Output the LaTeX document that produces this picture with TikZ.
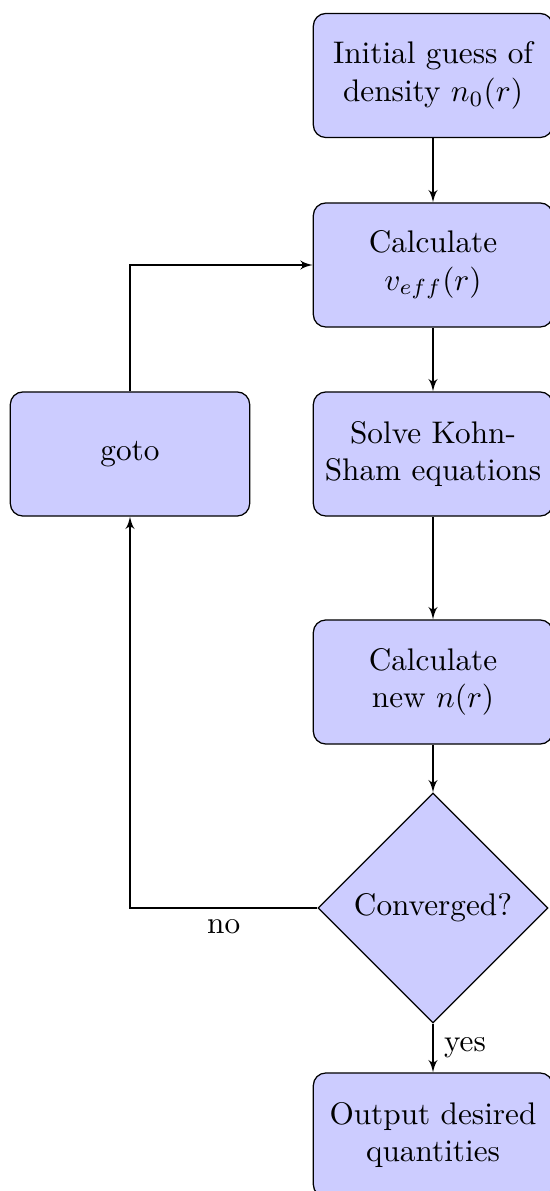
\documentclass[tikz,border=0pt]{standalone}
\usetikzlibrary{shapes.geometric,arrows}
\begin{document}
\begin{tikzpicture}[x=0.32pt,y=-0.32pt,
 block/.style={rectangle,draw,fill=blue!20,rounded corners,align=center,minimum width=76.6pt,minimum height=39.7pt,inner sep=2pt},
 decision/.style={diamond,draw,fill=blue!20,align=center,minimum width=73.6pt,minimum height=73.6pt,inner sep=0pt},
 line/.style={draw,-latex'}]
\useasboundingbox (0,0) rectangle (549,1191);
\node[block] (init) at (433,75.5) {Initial guess of\\density $n_0(r)$};
\node[block] (veff) at (433,265) {Calculate\\$v_{eff}(r)$};
\node[block] (ks) at (433,454) {Solve Kohn-\\Sham equations};
\node[block] (newn) at (433,682) {Calculate\\new $n(r)$};
\node[decision] (conv) at (433,908) {Converged?};
\node[block] (out) at (433,1135) {Output desired\\quantities};
\node[block] (goto) at (130,454) {goto};
\coordinate (corner) at (conv.west -| goto);
\draw[line] (init) -- (veff);
\draw[line] (veff) -- (ks);
\draw[line] (ks) -- (newn);
\draw[line] (newn) -- (conv);
\draw[line] (conv) -- node[right] {yes} (out);
\draw[line] (conv.west) -- node[below] {no} (corner) -- (goto);
\draw[line] (goto) |- (veff);
\end{tikzpicture}
\end{document}
